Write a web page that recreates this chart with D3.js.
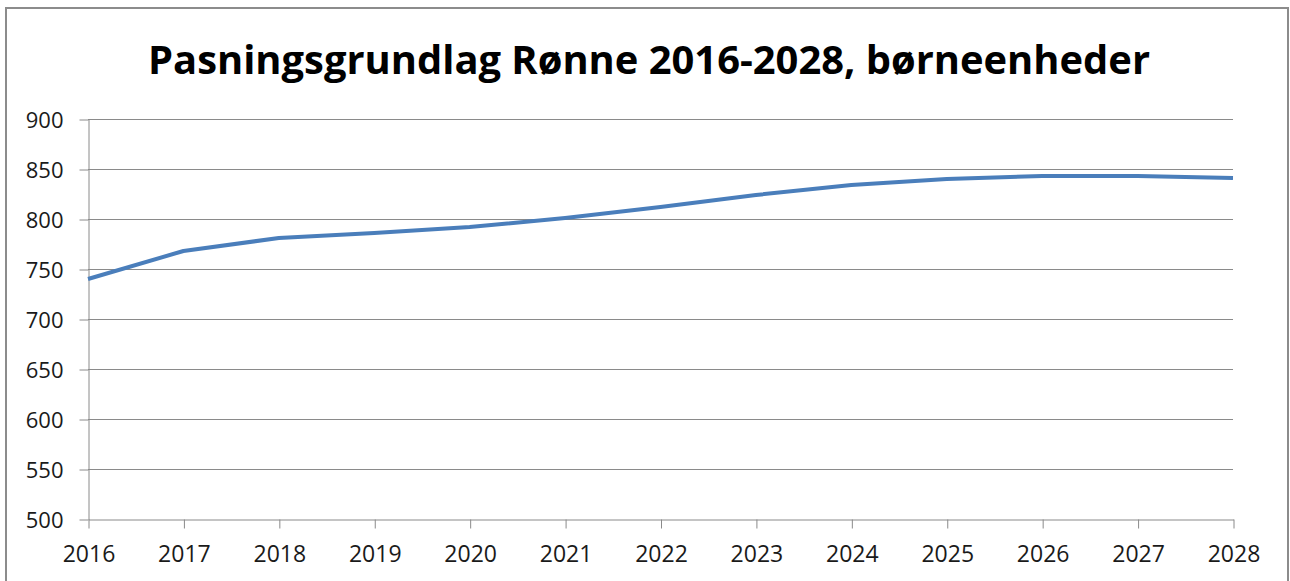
<!DOCTYPE html>
<html><head><meta charset="utf-8">
<script src="https://cdn.jsdelivr.net/npm/d3@7"></script>
<style>body{margin:0;background:#fff}svg{display:block}</style>
</head><body>
<script>
const years = [2016,2017,2018,2019,2020,2021,2022,2023,2024,2025,2026,2027,2028];
const values = [740,768,781,786,792,801,812,824,834,840,843,843,841];
const yTicks = [500,550,600,650,700,750,800,850,900];
const title = "Pasningsgrundlag Rønne 2016-2028, børneenheder";

const W = 1290, H = 581;
const svg = d3.select("body").append("svg").attr("width", W).attr("height", H);
svg.append("rect").attr("x",6).attr("y",8).attr("width",1282).attr("height",620)
  .attr("fill","#fff").attr("stroke","#8c8c8c").attr("stroke-width",2);

const x = d3.scaleLinear().domain([2016,2028]).range([88,1233]);
const y = d3.scaleLinear().domain([500,900]).range([519,119]);

const grid = "#8a8a8a";
svg.append("g").selectAll("line").data(yTicks.filter(d=>d>500)).join("line")
  .attr("x1",88).attr("x2",1233).attr("y1",d=>Math.round(y(d))+0.5).attr("y2",d=>Math.round(y(d))+0.5)
  .attr("stroke",grid).attr("stroke-width",1);

const yAxis = svg.append("g").attr("transform","translate(88.5,0.5)")
  .call(d3.axisLeft(y).tickValues(yTicks).tickSize(9).tickPadding(16).tickSizeOuter(0));
const xAxis = svg.append("g").attr("transform","translate(0.5,519.5)")
  .call(d3.axisBottom(x).tickValues(years).tickFormat(d3.format("d")).tickSize(9).tickPadding(17).tickSizeOuter(0));
[yAxis,xAxis].forEach(a=>{
  a.select(".domain").attr("stroke",grid);
  a.selectAll(".tick line").attr("stroke",grid);
  a.selectAll("text").attr("fill","#1a1a1a").style("font-family","'Open Sans', sans-serif");
});
yAxis.selectAll("text").attr("dy","0.36em").style("font-size","22px");
xAxis.selectAll("text").style("font-size","23px");

svg.append("path").datum(years.map((d,i)=>[d,values[i]]))
  .attr("fill","none").attr("stroke","#4a7ebb").attr("stroke-width",4).attr("stroke-linejoin","round")
  .attr("d", d3.line().x(d=>x(d[0])).y(d=>y(d[1])));

svg.append("text").attr("x",649).attr("y",74).attr("text-anchor","middle")
  .style("font-family","'Open Sans', sans-serif").style("font-weight","bold").style("font-size","40px")
  .attr("fill","#000").attr("textLength",1002).attr("lengthAdjust","spacingAndGlyphs").text(title);
</script>
</body></html>
